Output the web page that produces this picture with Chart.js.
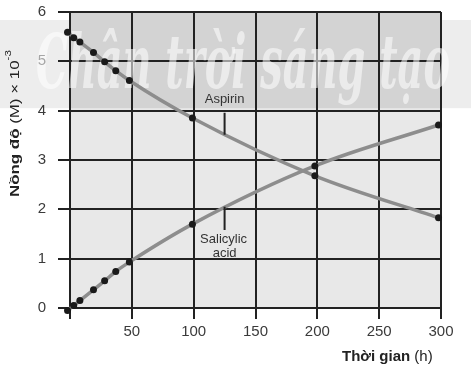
<!DOCTYPE html>
<html lang="vi">
<head>
    <meta charset="UTF-8">
    <title>Nồng độ aspirin và salicylic acid</title>
    <script src="https://cdn.jsdelivr.net/npm/chart.js@4.4.1/dist/chart.umd.min.js"></script>
    <style>
        html, body { margin: 0; padding: 0; background: #fff; }
        #wrap { width: 471px; height: 368px; }
    </style>
</head>
<body>
<div id="wrap"><canvas id="chart" width="471" height="368"></canvas></div>
<script>
    // số liệu
    const timeAspirin = [-2, 3, 8, 19, 28, 37, 48, 99, 198, 298];
    const aspirinValues = [5.59, 5.48, 5.39, 5.18, 4.99, 4.81, 4.61, 3.85, 2.68, 1.83];
    const timeSalicylic = [-2, 3, 8, 19, 28, 37, 48, 99, 198, 298];
    const salicylicValues = [-0.05, 0.05, 0.15, 0.37, 0.55, 0.74, 0.93, 1.70, 2.88, 3.71];
    const xTicks = [0, 50, 100, 150, 200, 250, 300];
    const yTicks = [0, 1, 2, 3, 4, 5, 6];

    const FONT = "'Liberation Sans', Arial, sans-serif";

    function toPoints(xs, ys) {
        return xs.map((x, i) => ({ x: x, y: ys[i] }));
    }

    // nền xám + dòng chữ mờ
    const backdrop = {
        id: 'backdrop',
        beforeDraw(chart) {
            const { ctx, chartArea: a, width } = chart;
            const yBand = chart.scales.y.getPixelForValue(4.05);
            ctx.save();
            ctx.fillStyle = 'rgba(0,0,0,0.07)';
            ctx.fillRect(0, 20, width, yBand - 20);
            ctx.fillStyle = '#e8e8e8';
            ctx.fillRect(a.left, a.top, a.right - a.left, a.bottom - a.top);
            ctx.fillStyle = 'rgba(0,0,0,0.09)';
            ctx.fillRect(a.left, a.top, a.right - a.left, yBand - a.top);
            ctx.restore();
        },
        beforeDatasetsDraw(chart) {
            const { ctx } = chart;
            const text = 'Chân trời sáng tạo';
            ctx.save();
            ctx.font = "italic bold 74px 'DejaVu Serif', serif";
            const w = ctx.measureText(text).width;
            ctx.translate(36, 88);
            ctx.scale(414 / w, 1);
            ctx.fillStyle = 'rgba(255,255,255,0.55)';
            ctx.textBaseline = 'alphabetic';
            ctx.fillText(text, 0, 0);
            ctx.restore();
        }
    };

    // chú thích và tên trục
    const labels = {
        id: 'labels',
        afterDatasetsDraw(chart) {
            const { ctx } = chart;
            const xs = chart.scales.x, ys = chart.scales.y;
            const cx = xs.getPixelForValue(125);
            ctx.save();
            ctx.strokeStyle = '#222';
            ctx.lineWidth = 2;
            ctx.beginPath();
            ctx.moveTo(cx, ys.getPixelForValue(3.96));
            ctx.lineTo(cx, ys.getPixelForValue(3.51));
            ctx.moveTo(cx, ys.getPixelForValue(2.05));
            ctx.lineTo(cx, ys.getPixelForValue(1.58));
            ctx.stroke();

            ctx.fillStyle = '#333';
            ctx.font = '13px ' + FONT;
            ctx.textAlign = 'center';
            ctx.textBaseline = 'middle';
            ctx.fillText('Aspirin', cx, ys.getPixelForValue(4.22));
            ctx.fillText('Salicylic', cx - 1, ys.getPixelForValue(1.40));
            ctx.fillText('acid', cx, ys.getPixelForValue(1.10));

            // tên trục x
            ctx.textAlign = 'left';
            ctx.fillStyle = '#222';
            ctx.font = 'bold 15px ' + FONT;
            const t1 = 'Thời gian';
            ctx.fillText(t1, 342, 357);
            const w1 = ctx.measureText(t1).width;
            ctx.font = '15px ' + FONT;
            ctx.fillText(' (h)', 342 + w1, 357);

            // tên trục y
            ctx.translate(15, 197);
            ctx.rotate(-Math.PI / 2);
            ctx.font = 'bold 13px ' + FONT;
            const p1 = 'Nồng độ';
            const wp1 = ctx.measureText(p1).width;
            ctx.font = '13px ' + FONT;
            const p2 = ' (M) × 10';
            const wp2 = ctx.measureText(p2).width;
            ctx.font = '9px ' + FONT;
            const p3 = '-3';
            const wp3 = ctx.measureText(p3).width;
            ctx.scale(147 / (wp1 + wp2 + wp3), 1);
            ctx.font = 'bold 13px ' + FONT;
            ctx.fillText(p1, 0, 0);
            ctx.font = '13px ' + FONT;
            ctx.fillText(p2, wp1, 0);
            ctx.font = '9px ' + FONT;
            ctx.fillText(p3, wp1 + wp2, -6);
            ctx.restore();
        }
    };

    const lineStyle = {
        showLine: true,
        borderColor: '#8d8d8d',
        borderWidth: 3.5,
        pointRadius: 3.5,
        pointBackgroundColor: '#1a1a1a',
        pointBorderColor: '#1a1a1a',
        pointBorderWidth: 0,
        cubicInterpolationMode: 'monotone',
        clip: false
    };

    new Chart(document.getElementById('chart'), {
        type: 'scatter',
        data: {
            datasets: [
                Object.assign({ label: 'Aspirin', data: toPoints(timeAspirin, aspirinValues) }, lineStyle),
                Object.assign({ label: 'Salicylic acid', data: toPoints(timeSalicylic, salicylicValues) }, lineStyle)
            ]
        },
        options: {
            responsive: false,
            animation: false,
            layout: { padding: { top: 12, right: 30, left: 0, bottom: 0 } },
            plugins: { legend: { display: false }, tooltip: { enabled: false } },
            scales: {
                x: {
                    type: 'linear',
                    min: xTicks[0],
                    max: xTicks[xTicks.length - 1],
                    afterBuildTicks: s => { s.ticks = xTicks.map(v => ({ value: v })); },
                    afterFit: s => { s.height = 60; s.paddingLeft = 0; s.paddingRight = 0; },
                    border: { color: '#222', width: 2 },
                    grid: { color: '#222', lineWidth: 2, tickLength: 11 },
                    ticks: {
                        color: '#3a3a3a',
                        font: { family: FONT, size: 15 },
                        padding: 4,
                        callback: v => v === 0 ? '' : v
                    }
                },
                y: {
                    min: yTicks[0],
                    max: yTicks[yTicks.length - 1],
                    afterBuildTicks: s => { s.ticks = yTicks.map(v => ({ value: v })); },
                    afterFit: s => { s.width = 70; s.paddingTop = 0; s.paddingBottom = 0; },
                    border: { color: '#222', width: 2 },
                    grid: { color: '#222', lineWidth: 2, tickLength: 12 },
                    ticks: {
                        color: '#3a3a3a',
                        font: { family: FONT, size: 15 },
                        padding: 12
                    }
                }
            }
        },
        plugins: [backdrop, labels]
    });
</script>
</body>
</html>
